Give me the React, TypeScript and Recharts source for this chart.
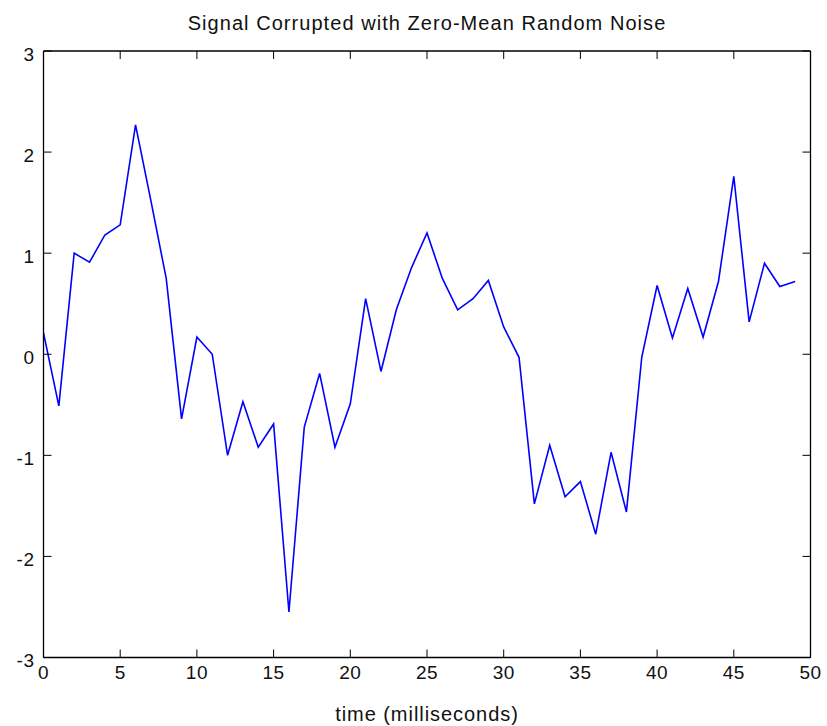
import React from 'react';
import { LineChart, Line, XAxis, YAxis } from 'recharts';

const times = [0,1,2,3,4,5,6,7,8,9,10,11,12,13,14,15,16,17,18,19,20,21,22,23,24,25,26,27,28,29,30,31,32,33,34,35,36,37,38,39,40,41,42,43,44,45,46,47,48,49];
const signal = [0.21,-0.51,1.0,0.91,1.18,1.28,2.27,1.52,0.75,-0.64,0.17,0.0,-1.0,-0.47,-0.92,-0.69,-2.55,-0.72,-0.19,-0.92,-0.49,0.55,-0.17,0.44,0.86,1.2,0.75,0.44,0.55,0.73,0.27,-0.03,-1.48,-0.9,-1.41,-1.26,-1.78,-0.97,-1.56,-0.03,0.68,0.16,0.65,0.17,0.72,1.76,0.32,0.9,0.67,0.72];
const xTicks = [0,5,10,15,20,25,30,35,40,45,50];
const yTicks = [-3,-2,-1,0,1,2,3];
const title = 'Signal Corrupted with Zero-Mean Random Noise';
const xLabel = 'time (milliseconds)';

const data = times.map((t, i) => ({ t, v: signal[i] }));

const FONT = '"Liberation Sans", Arial, Helvetica, sans-serif';
const TICK = 8;

const BottomTick = (p: any) => (
  <g>
    <line x1={p.x} x2={p.x} y1={p.y} y2={p.y - TICK} stroke="#000" strokeWidth={1} />
    <text x={p.x} y={p.y + 15} textAnchor="middle" dominantBaseline="central" fontFamily={FONT} fontSize={19} letterSpacing={0.5} fill="#111">{p.payload.value}</text>
  </g>
);
const TopTick = (p: any) => (
  <line x1={p.x} x2={p.x} y1={p.y} y2={p.y + TICK} stroke="#000" strokeWidth={1} />
);
const LeftTick = (p: any) => (
  <g>
    <line x1={p.x} x2={p.x + TICK} y1={p.y} y2={p.y} stroke="#000" strokeWidth={1} />
    <text x={p.x - 9} y={p.y + 3} textAnchor="end" dominantBaseline="central" fontFamily={FONT} fontSize={19} letterSpacing={0.5} fill="#111">{p.payload.value}</text>
  </g>
);
const RightTick = (p: any) => (
  <line x1={p.x} x2={p.x - TICK} y1={p.y} y2={p.y} stroke="#000" strokeWidth={1} />
);

export default function App() {
  return (
    <div style={{ position: 'absolute', left: 0, top: 0, width: 827, height: 726, background: '#fff' }}>
      <div style={{ position: 'absolute', left: 43.5, width: 767, top: 11, textAlign: 'center', fontFamily: FONT, fontSize: 20, color: '#111', letterSpacing: 1.05, lineHeight: '24px' }}>{title}</div>
      <div style={{ position: 'absolute', left: 43.5, width: 767, top: 702, textAlign: 'center', fontFamily: FONT, fontSize: 20, color: '#111', letterSpacing: 0.95, lineHeight: '24px' }}>{xLabel}</div>
      <LineChart width={827} height={726} data={data} margin={{ top: 50, right: 15.5, bottom: 67.5, left: 42.5 }}>
        <XAxis dataKey="t" type="number" domain={[0, 50]} ticks={xTicks} height={1} tickSize={0} tickMargin={0} tickLine={false} tick={<BottomTick />} axisLine={{ stroke: '#000', strokeWidth: 1.3 }} interval={0} allowDataOverflow />
        <XAxis xAxisId="top" orientation="top" dataKey="t" type="number" domain={[0, 50]} ticks={xTicks} height={1} tickSize={0} tickMargin={0} tickLine={false} tick={<TopTick />} axisLine={{ stroke: '#000', strokeWidth: 1.3 }} interval={0} allowDataOverflow />
        <YAxis type="number" domain={[-3, 3]} ticks={yTicks} width={1} tickSize={0} tickMargin={0} tickLine={false} tick={<LeftTick />} axisLine={{ stroke: '#000', strokeWidth: 1.3 }} interval={0} allowDataOverflow />
        <YAxis yAxisId="right" orientation="right" type="number" domain={[-3, 3]} ticks={yTicks} width={1} tickSize={0} tickMargin={0} tickLine={false} tick={<RightTick />} axisLine={{ stroke: '#000', strokeWidth: 1.3 }} interval={0} allowDataOverflow />
        <Line type="linear" dataKey="v" stroke="#0000ff" strokeWidth={1.6} dot={false} isAnimationActive={false} />
      </LineChart>
    </div>
  );
}
